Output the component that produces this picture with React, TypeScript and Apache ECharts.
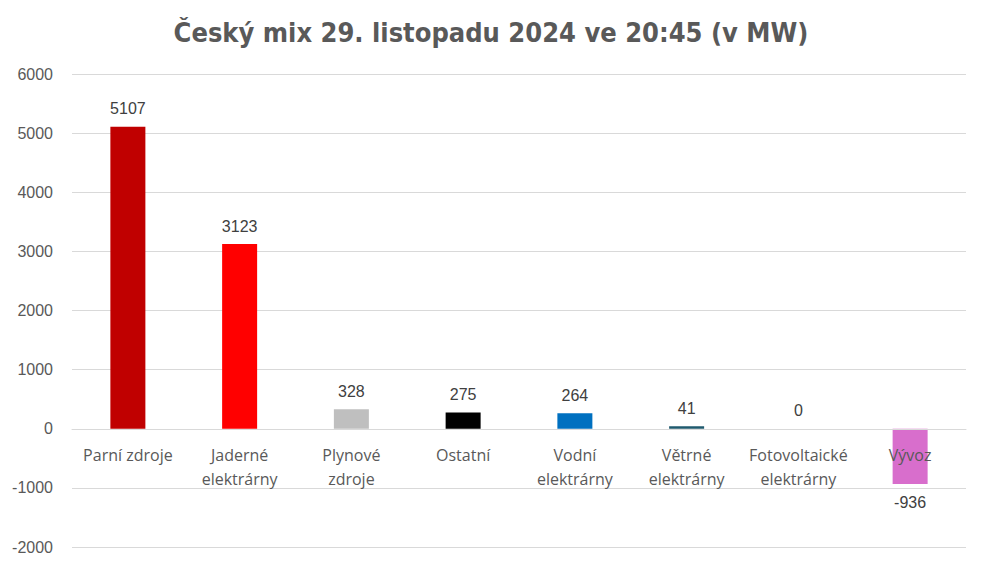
import React, { useEffect, useRef } from "react";
import * as echarts from "echarts";

const categories = [
  "Parní zdroje",
  "Jaderné\nelektrárny",
  "Plynové\nzdroje",
  "Ostatní",
  "Vodní\nelektrárny",
  "Větrné\nelektrárny",
  "Fotovoltaické\nelektrárny",
  "Vývoz",
];
const values = [5107, 3123, 328, 275, 264, 41, 0, -936];
const colors = ["#C00000", "#FF0000", "#BFBFBF", "#000000", "#0070C0", "#1F5A6E", "#FFC000", "#D86ECC"];
const titleText = "Český mix 29. listopadu 2024 ve 20:45 (v MW)";

export default function App() {
  const ref = useRef<HTMLDivElement>(null);
  useEffect(() => {
    if (!ref.current) return;
    const chart = echarts.init(ref.current, undefined, { renderer: "svg" });
    chart.setOption({
      animation: false,
      backgroundColor: "#ffffff",
      title: {
        text: titleText,
        left: "center",
        top: 14,
        textStyle: {
          fontFamily: "'DejaVu Sans Condensed', 'Liberation Sans Narrow', sans-serif",
          fontWeight: "bold",
          fontSize: 27,
          color: "#595959",
        },
      },
      grid: { left: 72, right: 16, top: 74, bottom: 18, containLabel: false, outerBoundsMode: "none" },
      xAxis: {
        type: "category",
        data: categories,
        offset: -118,
        axisLine: { show: true, onZero: false, lineStyle: { color: "#D9D9D9", width: 1 } },
        axisTick: { show: false },
        axisLabel: {
          interval: 0,
          fontFamily: "'Open Sans', sans-serif",
          fontSize: 16,
          color: "#595959",
          lineHeight: 24,
          margin: 14,
        },
        z: 5,
      },
      yAxis: {
        type: "value",
        min: -2000,
        max: 6000,
        interval: 1000,
        axisLine: { show: false },
        axisTick: { show: false },
        splitLine: { lineStyle: { color: "#D9D9D9", width: 1 } },
        axisLabel: {
          fontFamily: "'Liberation Sans', Arial, sans-serif",
          fontSize: 16,
          color: "#595959",
          margin: 19,
          formatter: (v: number) => String(v),
        },
      },
      series: [
        {
          type: "bar",
          data: values.map((v, i) => ({
            value: v,
            itemStyle: { color: colors[i] },
            label: { position: v < 0 ? "bottom" : "top" },
          })),
          barWidth: 35,
          z: 2,
          label: {
            show: true,
            distance: 10,
            fontFamily: "'Liberation Sans', Arial, sans-serif",
            fontSize: 16,
            color: "#404040",
          },
        },
      ],
    });
    return () => chart.dispose();
  }, []);
  return (
    <div
      ref={ref}
      style={{ position: "absolute", left: 0, top: 0, width: 982, height: 565 }}
    />
  );
}
